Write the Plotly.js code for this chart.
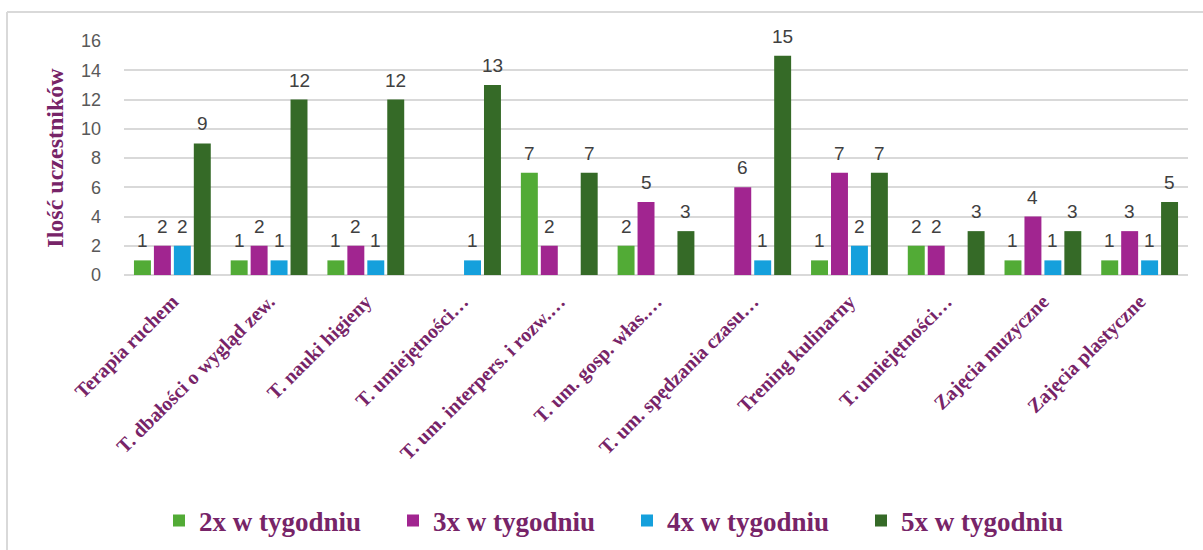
<!DOCTYPE html>
<html>
<head>
<meta charset="utf-8">
<script src="https://cdn.plot.ly/plotly-3.0.1.min.js"></script>
<style>
html,body{margin:0;padding:0;background:#fff;}
#chart{width:1203px;height:550px;}
</style>
</head>
<body>
<div id="chart"></div>
<script>
const categories = [
  "Terapia ruchem",
  "T. dbałości o wygląd zew.",
  "T. nauki higieny",
  "T. umiejętności…",
  "T. um. interpers. i rozw.…",
  "T. um. gosp. włas.…",
  "T. um. spędzania czasu…",
  "Trening kulinarny",
  "T. umiejętności…",
  "Zajęcia muzyczne",
  "Zajęcia plastyczne"
];
const seriesNames = ["2x w tygodniu", "3x w tygodniu", "4x w tygodniu", "5x w tygodniu"];
const s2x = [1, 1, 1, null, 7, 2, null, 1, 2, 1, 1];
const s3x = [2, 2, 2, null, 2, 5, 6, 7, 2, 4, 3];
const s4x = [2, 1, 1, 1, null, null, 1, 2, null, 1, 1];
const s5x = [9, 12, 12, 13, 7, 3, 15, 7, 3, 3, 5];
const yTicks = [0, 2, 4, 6, 8, 10, 12, 14, 16];

const colors = ["#52AB36", "#A12590", "#15A0DC", "#356A27"];
const purple = "#772468";
const xIdx = categories.map((_, i) => i);

const BARGAP = 0.175, BARGROUPGAP = 0.15;
const allSeries = [s2x, s3x, s4x, s5x];
const traces = allSeries.map((vals, k) => ({
  type: "bar",
  name: seriesNames[k],
  x: xIdx,
  y: vals,
  marker: {color: colors[k]},
  hoverinfo: "x+y+name"
}));

// value labels placed above each bar (positions from the same data and group geometry)
const slot = (1 - BARGAP) / allSeries.length;
const annotations = [];
allSeries.forEach((vals, k) => {
  const off = -(1 - BARGAP) / 2 + (k + 0.5) * slot;
  vals.forEach((v, i) => {
    if (v === null) return;
    annotations.push({
      x: i + off, y: v, xref: "x", yref: "y",
      text: String(v), showarrow: false,
      yanchor: "bottom", yshift: 7,
      font: {family: "Liberation Sans, Arial, sans-serif", size: 19, color: "#404040"}
    });
  });
});

const L = 124, R = 15, T = 41, B = 275;
const pw = 1203 - L - R, ph = 550 - T - B;
const px = x => (x - L) / pw;
const py = y => (550 - B - y) / ph;

const layout = {
  width: 1203,
  height: 550,
  margin: {l: L, r: R, t: T, b: B, autoexpand: false},
  paper_bgcolor: "#fff",
  plot_bgcolor: "#fff",
  barmode: "group",
  bargap: BARGAP,
  bargroupgap: BARGROUPGAP,
  showlegend: true,
  legend: {
    orientation: "h",
    x: px(159),
    xanchor: "left",
    y: py(521),
    yanchor: "middle",
    entrywidth: 189,
    entrywidthmode: "pixels",
    font: {family: "Liberation Serif, DejaVu Serif, serif", size: 27, color: purple, weight: "bold"},
    itemsizing: "constant"
  },
  annotations: annotations,
  xaxis: {
    range: [-0.5, 10.5],
    tickvals: xIdx,
    ticktext: categories,
    tickangle: -45,
    automargin: false,
    showgrid: false,
    zeroline: false,
    showline: false,
    ticks: "",
    ticklabelstandoff: 10,
    tickfont: {family: "Liberation Serif, DejaVu Serif, serif", size: 20, color: purple, weight: "bold"}
  },
  yaxis: {
    range: [0, 16],
    tickvals: yTicks,
    ticktext: yTicks.map(String),
    automargin: false,
    showgrid: true,
    gridcolor: "#D9D9D9",
    gridwidth: 2,
    zeroline: true,
    zerolinecolor: "#D9D9D9",
    zerolinewidth: 2,
    showline: false,
    ticks: "",
    ticklabelstandoff: 22,
    tickfont: {family: "Liberation Sans, Arial, sans-serif", size: 18, color: "#595959"},
    title: {
      text: "Ilość uczestników",
      standoff: 10,
      font: {family: "Liberation Serif, DejaVu Serif, serif", size: 24, color: purple, weight: "bold"}
    }
  },
  shapes: [
    {type: "line", xref: "paper", yref: "paper", x0: px(7), x1: px(1203), y0: py(12), y1: py(12),
     line: {color: "#D9D9D9", width: 2}},
    {type: "line", xref: "paper", yref: "paper", x0: px(7), x1: px(7), y0: py(12), y1: py(550),
     line: {color: "#D9D9D9", width: 2}}
  ]
};

Plotly.newPlot("chart", traces, layout, {displayModeBar: false, staticPlot: true});
</script>
</body>
</html>
